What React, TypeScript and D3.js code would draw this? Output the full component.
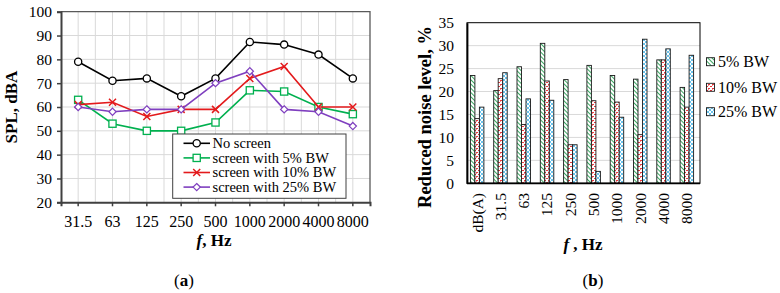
import * as d3 from 'd3';
import React, { useEffect, useRef } from 'react';

// (a) sound pressure level by octave band
const freqs = ['31.5', '63', '125', '250', '500', '1000', '2000', '4000', '8000'];
const noScreen = [79, 71, 72, 64.5, 72, 87.3, 86.2, 82, 72];
const bw5 = [63, 53, 50, 50, 53.5, 67, 66.5, 60, 57];
const bw10 = [61, 62, 56, 59, 59, 72, 77, 60, 60];
const bw25 = [60, 58, 59, 59, 70, 75, 59, 58, 52];
const splTicks = [20, 30, 40, 50, 60, 70, 80, 90, 100];

// (b) reduced noise level, %
const bands = ['dB(A)', '31.5', '63', '125', '250', '500', '1000', '2000', '4000', '8000'];
const red5 = [23.5, 20.2, 25.4, 30.5, 22.6, 25.7, 23.5, 22.7, 26.9, 20.9];
const red10 = [14.1, 22.8, 12.8, 22.3, 8.4, 18, 17.7, 10.6, 26.9, 16.6];
const red25 = [16.6, 24.1, 18.4, 18.1, 8.4, 2.6, 14.4, 31.4, 29.3, 27.9];
const pctTicks = [0, 5, 10, 15, 20, 25, 30, 35];

const FONT = '"Liberation Serif", "Times New Roman", serif';

const App = () => {
  const ref = useRef<SVGSVGElement>(null);

  useEffect(() => {
    const svg = d3.select(ref.current);
    svg.selectAll('*').remove();
    svg.attr('font-family', FONT);

    // bar fill patterns
    const defs = svg.append('defs');
    const p5 = defs.append('pattern').attr('id', 'p5').attr('patternUnits', 'userSpaceOnUse')
      .attr('width', 3).attr('height', 3).attr('patternTransform', 'rotate(-45)');
    p5.append('rect').attr('width', 3).attr('height', 3).attr('fill', '#fff');
    p5.append('rect').attr('width', 1).attr('height', 3).attr('fill', '#3aa862');

    const p10 = defs.append('pattern').attr('id', 'p10').attr('patternUnits', 'userSpaceOnUse')
      .attr('width', 4).attr('height', 4);
    p10.append('rect').attr('width', 4).attr('height', 4).attr('fill', '#fff');
    p10.append('rect').attr('x', 0).attr('y', 0).attr('width', 2).attr('height', 1).attr('fill', '#e8383d');
    p10.append('rect').attr('x', 2).attr('y', 2).attr('width', 2).attr('height', 1).attr('fill', '#e8383d');
    p10.append('rect').attr('x', 0).attr('y', 1).attr('width', 1).attr('height', 1).attr('fill', '#f08a8c');

    const p25 = defs.append('pattern').attr('id', 'p25').attr('patternUnits', 'userSpaceOnUse')
      .attr('width', 4).attr('height', 4);
    p25.append('rect').attr('width', 4).attr('height', 4).attr('fill', '#fff');
    p25.append('path').attr('d', 'M0,0L4,4M4,0L0,4').attr('stroke', '#45b4e6').attr('stroke-width', 0.8);

    // ---------- (a) line chart ----------
    const a = { l: 61, r: 370, t: 11.7, b: 202.3 };
    const x = d3.scaleBand().domain(freqs).range([a.l, a.r]);
    const bw = x.bandwidth();
    const cx = (d: string) => (x(d) as number) + bw / 2;
    const y = d3.scaleLinear().domain([20, 100]).range([a.b, a.t]);

    const ga = svg.append('g');
    const grid = ga.append('g').attr('stroke', '#d9d9d9').attr('stroke-width', 1);
    splTicks.slice(1, -1).forEach(t => {
      grid.append('line').attr('x1', a.l).attr('x2', a.r).attr('y1', y(t)).attr('y2', y(t));
    });
    freqs.forEach((f, i) => {
      grid.append('line').attr('x1', cx(f)).attr('x2', cx(f)).attr('y1', a.t).attr('y2', a.b);
      if (i < freqs.length - 1) {
        const xe = (x(f) as number) + bw;
        grid.append('line').attr('x1', xe).attr('x2', xe).attr('y1', a.t).attr('y2', a.b);
      }
    });
    ga.append('path').attr('d', `M${a.l},${a.t}H${a.r}V${a.b}`)
      .attr('fill', 'none').attr('stroke', '#595959').attr('stroke-width', 1.3);

    const yAxis = ga.append('g').attr('transform', `translate(${a.l},0)`)
      .call(d3.axisLeft(y).tickValues(splTicks).tickSize(4).tickPadding(5));
    const xAxis = ga.append('g').attr('transform', `translate(0,${a.b})`)
      .call(d3.axisBottom(x).tickSize(4).tickPadding(9));
    [yAxis, xAxis].forEach(g => {
      g.select('.domain').attr('stroke', '#404040').attr('stroke-width', 2);
      g.selectAll('.tick line').attr('stroke', '#404040').attr('stroke-width', 1.5);
      g.selectAll('.tick text').attr('font-family', FONT).attr('font-size', 15.5).attr('fill', '#000');
    });
    xAxis.selectAll('.tick text').attr('font-size', 16);

    const series = [
      { v: noScreen, c: '#000000', m: 'circle' },
      { v: bw5, c: '#00b04f', m: 'square' },
      { v: bw10, c: '#e31a1c', m: 'cross' },
      { v: bw25, c: '#7f3fbf', m: 'diamond' },
    ];
    const line = d3.line<number>().x((_, i) => cx(freqs[i])).y(d => y(d));
    const marker = (g: any, kind: string, px: number, py: number, c: string) => {
      if (kind === 'circle') {
        g.append('circle').attr('cx', px).attr('cy', py).attr('r', 3.6)
          .attr('fill', '#fff').attr('stroke', c).attr('stroke-width', 1.3);
      } else if (kind === 'square') {
        g.append('rect').attr('x', px - 3.6).attr('y', py - 3.6).attr('width', 7.2).attr('height', 7.2)
          .attr('fill', '#fff').attr('stroke', c).attr('stroke-width', 1.3);
      } else if (kind === 'cross') {
        g.append('path').attr('d', `M${px - 3.5},${py - 3.5}L${px + 3.5},${py + 3.5}M${px + 3.5},${py - 3.5}L${px - 3.5},${py + 3.5}`)
          .attr('stroke', c).attr('stroke-width', 1.5);
      } else {
        g.append('path').attr('d', `M${px},${py - 3.6}L${px + 3.6},${py}L${px},${py + 3.6}L${px - 3.6},${py}Z`)
          .attr('fill', '#fff').attr('stroke', c).attr('stroke-width', 1.2);
      }
    };
    series.forEach(s => {
      ga.append('path').attr('d', line(s.v)).attr('fill', 'none')
        .attr('stroke', s.c).attr('stroke-width', 1.6);
      s.v.forEach((d, i) => marker(ga, s.m, cx(freqs[i]), y(d), s.c));
    });

    // legend
    const legA = ga.append('g');
    legA.append('rect').attr('x', 172.7).attr('y', 134).attr('width', 173.3).attr('height', 64.3)
      .attr('fill', '#fff').attr('stroke', '#404040').attr('stroke-width', 1);
    const legNames = ['No screen', 'screen with 5% BW', 'screen with 10% BW', 'screen with 25% BW'];
    series.forEach((s, i) => {
      const ly = 143.3 + i * 14.6;
      legA.append('line').attr('x1', 183.5).attr('x2', 210).attr('y1', ly).attr('y2', ly)
        .attr('stroke', s.c).attr('stroke-width', 1.6);
      marker(legA, s.m, 196.7, ly, s.c);
      legA.append('text').attr('x', 212.5).attr('y', ly).attr('dy', '0.33em')
        .attr('font-size', 14.5).text(legNames[i]);
    });

    ga.append('text').attr('transform', `translate(17,${(a.t + a.b) / 2}) rotate(-90)`)
      .attr('text-anchor', 'middle').attr('font-size', 17).attr('font-weight', 'bold').text('SPL, dBA');
    const fa = ga.append('text').attr('x', 214).attr('y', 246).attr('text-anchor', 'middle')
      .attr('font-size', 17).attr('font-weight', 'bold');
    fa.append('tspan').attr('font-style', 'italic').text('f');
    fa.append('tspan').text(', Hz');
    const la = ga.append('text').attr('x', 184).attr('y', 286).attr('text-anchor', 'middle').attr('font-size', 17);
    la.append('tspan').text('(');
    la.append('tspan').attr('font-weight', 'bold').text('a');
    la.append('tspan').text(')');

    // ---------- (b) grouped bars ----------
    const b = { l: 467, r: 700, t: 22.7, b: 183.3 };
    const xb = d3.scaleBand().domain(bands).range([b.l - 1.5, b.r - 1.5]);
    const inner = d3.scaleBand().domain(['5', '10', '25']).range([0, 13.5]);
    const yb = d3.scaleLinear().domain([0, 35]).range([b.b, b.t]);
    const gb = svg.append('g');

    pctTicks.slice(1, -1).forEach(t => {
      gb.append('line').attr('x1', b.l).attr('x2', b.r).attr('y1', yb(t)).attr('y2', yb(t))
        .attr('stroke', '#d9d9d9').attr('stroke-width', 1);
    });

    const barSeries = [
      { k: '5', v: red5, fill: 'url(#p5)' },
      { k: '10', v: red10, fill: 'url(#p10)' },
      { k: '25', v: red25, fill: 'url(#p25)' },
    ];
    barSeries.forEach(s => {
      gb.selectAll(null).data(s.v).enter().append('rect')
        .attr('x', (_, i) => (xb(bands[i]) as number) + (xb.bandwidth() - 13.5) / 2 + (inner(s.k) as number))
        .attr('y', d => yb(d))
        .attr('width', inner.bandwidth())
        .attr('height', d => yb(0) - yb(d))
        .attr('fill', s.fill).attr('stroke', '#1a1a1a').attr('stroke-width', 0.9);
    });

    gb.append('rect').attr('x', b.l).attr('y', b.t).attr('width', b.r - b.l).attr('height', b.b - b.t)
      .attr('fill', 'none').attr('stroke', '#000').attr('stroke-width', 1);
    const ybAxis = gb.append('g').attr('transform', `translate(${b.l},0)`)
      .call(d3.axisLeft(yb).tickValues(pctTicks).tickSize(0).tickPadding(13));
    ybAxis.select('.domain').attr('stroke', '#000').attr('stroke-width', 1.8);
    ybAxis.selectAll('.tick text').attr('font-family', FONT).attr('font-size', 15.5).attr('fill', '#000');
    gb.append('line').attr('x1', b.l).attr('x2', b.r).attr('y1', b.b).attr('y2', b.b)
      .attr('stroke', '#000').attr('stroke-width', 1.8);

    bands.forEach(d => {
      const px = (xb(d) as number) + xb.bandwidth() / 2;
      gb.append('text').attr('transform', `translate(${px},193) rotate(-90)`)
        .attr('text-anchor', 'end').attr('dy', '0.35em').attr('font-size', 15.5).text(d);
    });

    gb.append('text').attr('transform', `translate(431,117) rotate(-90)`)
      .attr('text-anchor', 'middle').attr('font-size', 18.5).attr('font-weight', 'bold')
      .text('Reduced noise level, %');
    const fb = gb.append('text').attr('x', 583).attr('y', 250).attr('text-anchor', 'middle')
      .attr('font-size', 17).attr('font-weight', 'bold');
    fb.append('tspan').attr('font-style', 'italic').text('f');
    fb.append('tspan').text(' , Hz');
    const lb = gb.append('text').attr('x', 593).attr('y', 286).attr('text-anchor', 'middle').attr('font-size', 17);
    lb.append('tspan').text('(');
    lb.append('tspan').attr('font-weight', 'bold').text('b');
    lb.append('tspan').text(')');

    // legend
    const legB = ['5% BW', '10% BW', '25% BW'];
    barSeries.forEach((s, i) => {
      const ly = [61.7, 87.3, 111.7][i];
      gb.append('rect').attr('x', 706.5).attr('y', ly - 4).attr('width', 8).attr('height', 8)
        .attr('fill', s.fill).attr('stroke', '#1a1a1a').attr('stroke-width', 0.9);
      gb.append('text').attr('x', 718).attr('y', ly).attr('dy', '0.35em').attr('font-size', 16).text(legB[i]);
    });
  }, []);

  return (
    <svg ref={ref} width={780} height={293}
      style={{ position: 'absolute', left: 0, top: 0, background: '#fff' }} />
  );
};

export default App;
